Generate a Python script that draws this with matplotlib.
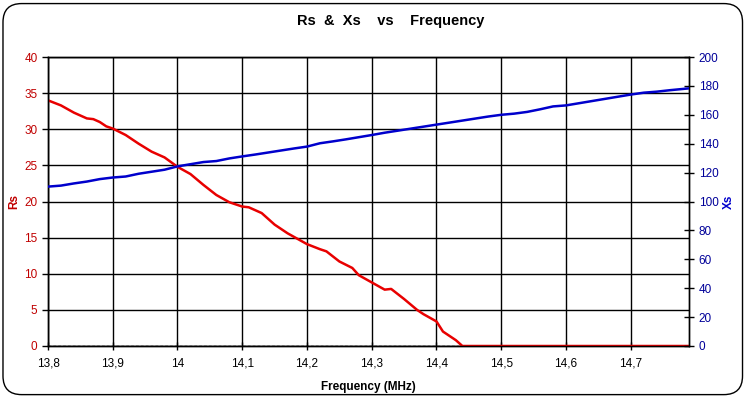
import matplotlib.pyplot as plt
from matplotlib.patches import FancyBboxPatch

# Rs readings (ohm) vs frequency (MHz)
rs_freq = [13.80, 13.82, 13.84, 13.86, 13.87, 13.88, 13.89, 13.90, 13.92, 13.94,
           13.96, 13.98, 14.00, 14.02, 14.04, 14.06, 14.08, 14.10, 14.11, 14.13,
           14.15, 14.17, 14.18, 14.20, 14.22, 14.23, 14.25, 14.27, 14.28, 14.30,
           14.32, 14.33, 14.35, 14.37, 14.38, 14.40, 14.41, 14.43, 14.44, 14.50,
           14.60, 14.70, 14.79]
rs_vals = [34.0, 33.3, 32.3, 31.5, 31.4, 31.0, 30.4, 30.1, 29.2, 28.0,
           26.9, 26.1, 24.8, 23.8, 22.3, 20.9, 19.9, 19.3, 19.2, 18.4,
           16.8, 15.6, 15.1, 14.1, 13.4, 13.1, 11.7, 10.8, 9.8, 8.8,
           7.8, 7.9, 6.5, 5.0, 4.4, 3.4, 2.0, 0.8, 0.0, 0.0,
           0.0, 0.0, 0.0]

# Xs readings (ohm)
xs_freq = [13.80, 13.82, 13.84, 13.86, 13.88, 13.90, 13.92, 13.94, 13.96, 13.98,
           14.00, 14.02, 14.04, 14.06, 14.08, 14.10, 14.12, 14.14, 14.16, 14.18,
           14.20, 14.22, 14.24, 14.26, 14.28, 14.30, 14.32, 14.34, 14.36, 14.38,
           14.40, 14.42, 14.44, 14.46, 14.48, 14.50, 14.52, 14.54, 14.56, 14.58,
           14.60, 14.62, 14.64, 14.66, 14.68, 14.70, 14.72, 14.74, 14.76, 14.79]
xs_vals = [110.3, 111.0, 112.5, 113.8, 115.5, 116.6, 117.3, 119.2, 120.6, 122.0,
           124.3, 125.8, 127.3, 128.0, 129.8, 131.2, 132.5, 133.9, 135.3, 136.7,
           138.0, 140.3, 141.6, 143.0, 144.5, 146.0, 147.6, 149.0, 150.4, 151.8,
           153.2, 154.6, 156.0, 157.4, 158.8, 160.0, 160.8, 162.0, 163.8, 165.8,
           166.5, 168.0, 169.5, 171.0, 172.5, 174.0, 175.3, 176.0, 177.0, 178.3]

xticks = [13.8, 13.9, 14.0, 14.1, 14.2, 14.3, 14.4, 14.5, 14.6, 14.7]
rs_ticks = [0, 5, 10, 15, 20, 25, 30, 35, 40]
xs_ticks = [0, 20, 40, 60, 80, 100, 120, 140, 160, 180, 200]

plt.rcParams['font.family'] = ['Liberation Sans', 'DejaVu Sans']

fig = plt.figure(figsize=(7.47, 3.97), dpi=100)
ax = fig.add_axes([48 / 747, 51 / 397, 641 / 747, 289 / 397])

# rounded frame round the whole chart
frame = FancyBboxPatch((0.004, 0.006), 0.99, 0.985, boxstyle='round,pad=0,rounding_size=0.025',
                       transform=fig.transFigure, fill=False, edgecolor='black', lw=1.0,
                       mutation_aspect=747 / 397)
fig.patches.append(frame)

ax.set_xlim(13.8, 14.79)
ax.set_ylim(0, 40)
ax.set_xticks(xticks)
ax.set_xticklabels([f'{t:g}'.replace('.', ',') for t in xticks], va='baseline')
ax.set_yticks(rs_ticks)
ax.grid(True, color='black', lw=1.0)
ax.set_axisbelow(True)
ax.axhline(0, color='black', ls=(0, (2, 1.5)), lw=1.0, zorder=2)
ax.plot(rs_freq, rs_vals, color='#E80000', lw=1.8, zorder=4)

ax.tick_params(axis='y', colors='#C00000', labelsize=8.5, length=4, width=1)
ax.tick_params(axis='y', color='black')
ax.tick_params(axis='x', labelsize=8.5, direction='inout', length=6, width=1, pad=12)
ax.set_ylabel('Rs', color='#C00000', fontweight='bold', fontsize=8.5, labelpad=3)
ax.set_xlabel('Frequency (MHz)', fontweight='bold', fontsize=8.5, labelpad=8)

ax2 = ax.twinx()
ax2.set_ylim(0, 200)
ax2.set_yticks(xs_ticks)
ax2.plot(xs_freq, xs_vals, color='#0000CC', lw=1.8, zorder=5)
ax2.tick_params(axis='y', labelcolor='#000099', color='black', labelsize=8.5,
                direction='inout', length=7, width=1)
ax2.set_ylabel('Xs', color='#0000CC', fontweight='bold', fontsize=8.5, rotation=90, labelpad=3)

for a in (ax, ax2):
    for s in a.spines.values():
        s.set_color('black')
        s.set_linewidth(1.0)

fig.text(391 / 747, 1 - 21 / 397, 'Rs  &  Xs    vs    Frequency', ha='center', va='center',
         fontsize=10.5, fontweight='bold')

fig.savefig('out.png', dpi=100)
